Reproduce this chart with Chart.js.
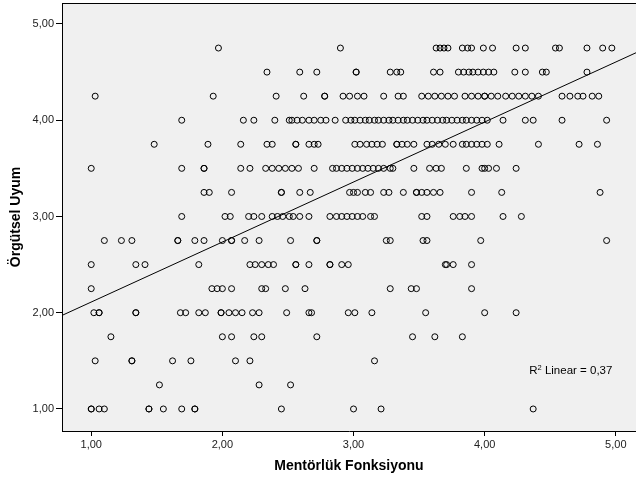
<!DOCTYPE html>
<html>
<head>
<meta charset="utf-8">
<script src="https://cdn.jsdelivr.net/npm/chart.js@4/dist/chart.umd.min.js"></script>
<style>
html,body{margin:0;padding:0;background:#fff;}
canvas{display:block;}
</style>
</head>
<body>
<canvas id="c" width="636" height="482"></canvas>
<script>
// Örgütsel Uyum levels (y) and the Mentörlük Fonksiyonu scores (x) read at each level
const yLevels = [4.75, 4.5, 4.25, 4.0, 3.75, 3.5, 3.25, 3.0, 2.75, 2.5, 2.25, 2.0, 1.75, 1.5, 1.25, 1.0];
const x_475 = [1.97, 2.90, 3.63, 3.66, 3.69, 3.72, 3.83, 3.87, 3.90, 3.99, 4.06, 4.24, 4.31, 4.54, 4.57, 4.78, 4.90, 4.97];
const x_450 = [2.34, 2.59, 2.72, 3.02, 3.02, 3.28, 3.33, 3.36, 3.61, 3.66, 3.80, 3.84, 3.88, 3.91, 3.95, 3.99, 4.03, 4.07, 4.23, 4.31, 4.44, 4.47, 4.78];
const x_425 = [1.03, 1.93, 2.41, 2.62, 2.78, 2.78, 2.92, 2.97, 3.03, 3.08, 3.23, 3.34, 3.38, 3.52, 3.57, 3.62, 3.67, 3.72, 3.77, 3.85, 3.90, 3.95, 4.00, 4.00, 4.05, 4.10, 4.16, 4.21, 4.26, 4.31, 4.36, 4.41, 4.59, 4.65, 4.71, 4.75, 4.82, 4.87];
const x_400 = [1.69, 2.16, 2.24, 2.40, 2.51, 2.53, 2.57, 2.61, 2.66, 2.70, 2.75, 2.79, 2.86, 2.94, 2.98, 3.01, 3.05, 3.09, 3.12, 3.16, 3.19, 3.23, 3.27, 3.30, 3.34, 3.38, 3.41, 3.45, 3.49, 3.53, 3.56, 3.60, 3.64, 3.68, 3.71, 3.75, 3.79, 3.83, 3.86, 3.90, 3.94, 3.98, 4.02, 4.14, 4.31, 4.37, 4.59, 4.93];
const x_375 = [1.48, 1.89, 2.14, 2.34, 2.38, 2.56, 2.56, 2.66, 2.70, 2.73, 3.01, 3.05, 3.10, 3.14, 3.18, 3.22, 3.33, 3.33, 3.37, 3.41, 3.46, 3.56, 3.60, 3.65, 3.70, 3.76, 3.83, 3.86, 3.90, 3.94, 3.98, 4.02, 4.11, 4.41, 4.72, 4.86];
const x_350 = [1.00, 1.69, 1.86, 1.86, 2.14, 2.21, 2.33, 2.38, 2.43, 2.48, 2.53, 2.58, 2.70, 2.84, 2.87, 2.91, 2.95, 2.99, 3.03, 3.07, 3.11, 3.15, 3.19, 3.23, 3.28, 3.30, 3.46, 3.58, 3.63, 3.67, 3.86, 3.98, 4.00, 4.03, 4.09, 4.24];
const x_325 = [1.86, 1.90, 2.07, 2.45, 2.45, 2.59, 2.67, 2.97, 3.00, 3.03, 3.09, 3.13, 3.23, 3.27, 3.38, 3.48, 3.48, 3.52, 3.56, 3.61, 3.66, 3.90, 4.13, 4.88];
const x_300 = [1.69, 2.02, 2.06, 2.20, 2.24, 2.30, 2.38, 2.42, 2.46, 2.51, 2.54, 2.59, 2.66, 2.82, 2.87, 2.91, 2.95, 2.99, 3.03, 3.07, 3.13, 3.16, 3.52, 3.56, 3.76, 3.81, 3.85, 3.90, 4.14, 4.28];
const x_275 = [1.10, 1.23, 1.31, 1.66, 1.66, 1.79, 1.86, 2.00, 2.07, 2.07, 2.17, 2.28, 2.52, 2.72, 2.72, 3.25, 3.28, 3.53, 3.56, 3.97, 4.93];
const x_250 = [1.00, 1.34, 1.41, 1.82, 2.21, 2.25, 2.30, 2.35, 2.39, 2.56, 2.56, 2.66, 2.82, 2.82, 2.91, 2.96, 3.70, 3.71, 3.76, 3.90];
const x_225 = [1.00, 1.92, 1.96, 2.00, 2.07, 2.30, 2.33, 2.48, 2.63, 3.28, 3.44, 3.48, 3.90];
const x_200 = [1.02, 1.06, 1.06, 1.34, 1.34, 1.68, 1.72, 1.82, 1.87, 1.99, 1.99, 2.05, 2.10, 2.15, 2.23, 2.28, 2.49, 2.66, 2.68, 2.96, 3.01, 3.14, 3.55, 4.00, 4.24];
const x_175 = [1.15, 2.00, 2.07, 2.24, 2.30, 2.72, 3.45, 3.62, 3.83];
const x_150 = [1.03, 1.31, 1.31, 1.62, 1.76, 2.10, 2.21, 3.16];
const x_125 = [1.52, 2.28, 2.52];
const x_100 = [1.00, 1.00, 1.06, 1.10, 1.44, 1.44, 1.55, 1.69, 1.79, 1.79, 2.45, 3.00, 3.21, 4.37];
const rows = [x_475, x_450, x_425, x_400, x_375, x_350, x_325, x_300, x_275, x_250, x_225, x_200, x_175, x_150, x_125, x_100];

// axis ticks and fit line
const xTicks = [1, 2, 3, 4, 5];
const yTicks = [1, 2, 3, 4, 5];
const xRange = [0.777, 5.154];
const yRange = [0.771, 5.218];
const fitIntercept = 1.4875;
const fitSlope = 0.6235;
const r2Label = '0,37';

const points = [];
rows.forEach((xs, i) => xs.forEach(x => points.push({x: x, y: yLevels[i]})));
const fitLine = xRange.map(x => ({x: x, y: fitIntercept + fitSlope * x}));

const fmt = v => Number(v).toFixed(2).replace('.', ',');
const FONT = 'Liberation Sans, Arial, sans-serif';

const framePlugin = {
  id: 'frame',
  beforeDraw(chart) {
    const {ctx, chartArea: a} = chart;
    ctx.save();
    ctx.fillStyle = '#ffffff';
    ctx.fillRect(0, 0, chart.width, chart.height);
    ctx.fillStyle = '#f0f0f0';
    ctx.fillRect(a.left, a.top, a.right - a.left, a.bottom - a.top);
    ctx.restore();
  },
  afterDraw(chart) {
    const {ctx, chartArea: a} = chart;
    ctx.save();
    ctx.strokeStyle = '#000';
    ctx.lineWidth = 1;
    ctx.beginPath();
    ctx.moveTo(a.left, a.top + 0.5);
    ctx.lineTo(a.right, a.top + 0.5);
    ctx.stroke();
    // R² label
    const xs = chart.scales.x, ys = chart.scales.y;
    const tx = xs.getPixelForValue(4.34);
    const ty = ys.getPixelForValue(1.36);
    ctx.fillStyle = '#000';
    ctx.textBaseline = 'alphabetic';
    ctx.textAlign = 'left';
    ctx.font = '11.5px ' + FONT;
    ctx.fillText('R', tx, ty);
    const wR = ctx.measureText('R').width;
    ctx.font = '7.5px ' + FONT;
    ctx.fillText('2', tx + wR, ty - 4);
    const w2 = ctx.measureText('2').width;
    ctx.font = '11.5px ' + FONT;
    ctx.fillText(' Linear = ' + r2Label, tx + wR + w2, ty);
    ctx.restore();
  }
};

const zeroPad = s => { s.paddingLeft = 0; s.paddingRight = 0; s.paddingTop = 0; s.paddingBottom = 0; };

new Chart(document.getElementById('c').getContext('2d'), {
  type: 'scatter',
  data: {
    datasets: [
      {
        data: points,
        pointStyle: 'circle',
        pointRadius: 3,
        pointHoverRadius: 3,
        borderColor: '#000',
        backgroundColor: 'rgba(0,0,0,0)',
        borderWidth: 1,
        pointBorderWidth: 1
      },
      {
        type: 'line',
        data: fitLine,
        borderColor: '#000',
        borderWidth: 1,
        pointRadius: 0,
        fill: false,
        tension: 0
      }
    ]
  },
  options: {
    responsive: false,
    animation: false,
    events: [],
    layout: {autoPadding: false, padding: {top: 3, right: 0, left: 0, bottom: 0}},
    plugins: {legend: {display: false}, tooltip: {enabled: false}},
    scales: {
      x: {
        type: 'linear',
        min: xRange[0], max: xRange[1],
        afterBuildTicks: s => { s.ticks = xTicks.map(v => ({value: v})); },
        afterFit: s => { s.height = 51; zeroPad(s); },
        ticks: {callback: v => fmt(v), font: {family: FONT, size: 11}, color: '#222', padding: 2, maxRotation: 0, autoSkip: false},
        grid: {drawOnChartArea: false, drawTicks: true, tickLength: 5, color: '#000'},
        border: {color: '#000', width: 1},
        title: {display: true, text: 'Mentörlük Fonksiyonu', font: {family: FONT, size: 14, weight: 'bold'}, color: '#000', padding: {top: 0, bottom: 7}}
      },
      y: {
        type: 'linear',
        min: yRange[0], max: yRange[1],
        afterBuildTicks: s => { s.ticks = yTicks.map(v => ({value: v})); },
        afterFit: s => { s.width = 62; zeroPad(s); },
        ticks: {callback: v => fmt(v), font: {family: FONT, size: 11}, color: '#222', padding: 2, autoSkip: false},
        grid: {drawOnChartArea: false, drawTicks: true, tickLength: 6, color: '#000'},
        border: {color: '#000', width: 1},
        title: {display: true, text: 'Örgütsel Uyum', font: {family: FONT, size: 14, weight: 'bold'}, color: '#000', padding: {top: 8, bottom: 0}}
      }
    }
  },
  plugins: [framePlugin]
});
</script>
</body>
</html>
